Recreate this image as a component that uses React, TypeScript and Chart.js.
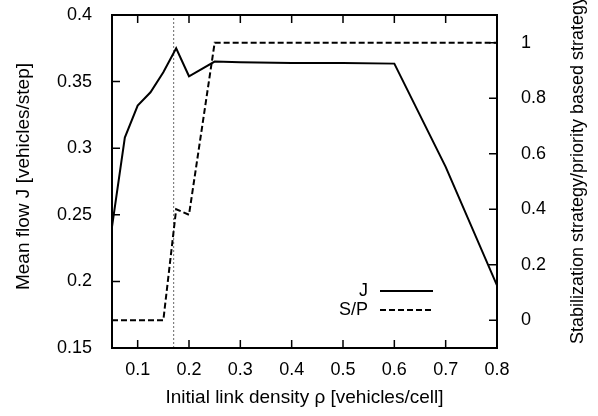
import React, { useEffect, useRef } from "react";
import { Chart, registerables } from "chart.js";

Chart.register(...registerables);

// Initial link density (x) and the two measured series
const density = [0.05, 0.075, 0.1, 0.125, 0.15, 0.175, 0.2, 0.25, 0.3, 0.4, 0.5, 0.6, 0.7, 0.8];
const meanFlow = [0.241, 0.308, 0.332, 0.342, 0.357, 0.375, 0.354, 0.365, 0.3645, 0.364, 0.364, 0.3635, 0.286, 0.197];
const strategyShare = [0, 0, 0, 0, 0, 0.4, 0.38, 1, 1, 1, 1, 1, 1, 1];

// Vertical reference line
const markerDensity = 0.17;

// Axis ranges and ticks
const xRange = [0.05, 0.8];
const flowRange = [0.15, 0.4];
const strategyRange = [-0.1, 1.1];
const xTicks = [0.1, 0.2, 0.3, 0.4, 0.5, 0.6, 0.7, 0.8];
const flowTicks = [0.15, 0.2, 0.25, 0.3, 0.35, 0.4];
const strategyTicks = [0, 0.2, 0.4, 0.6, 0.8, 1];

const FONT = '"Liberation Sans", Arial, Helvetica, sans-serif';
const TICK_FONT_SIZE = 18;
const TITLE_FONT_SIZE = 19;
const RIGHT_TITLE_FONT_SIZE = 18;
const TICK_LEN = 8;
const SP_DASH = [6, 3];

const framePlugin = {
  id: "frame",
  afterDatasetsDraw(chart: any) {
    const { ctx, chartArea: a, scales } = chart;
    ctx.save();
    ctx.strokeStyle = "#000";

    // inward tick marks, x ticks mirrored on top
    ctx.lineWidth = 1.5;
    ctx.beginPath();
    for (const v of xTicks) {
      const px = scales.x.getPixelForValue(v);
      ctx.moveTo(px, a.bottom);
      ctx.lineTo(px, a.bottom - TICK_LEN);
      ctx.moveTo(px, a.top);
      ctx.lineTo(px, a.top + TICK_LEN);
    }
    for (const v of flowTicks) {
      const py = scales.y.getPixelForValue(v);
      ctx.moveTo(a.left, py);
      ctx.lineTo(a.left + TICK_LEN, py);
    }
    for (const v of strategyTicks) {
      const py = scales.y1.getPixelForValue(v);
      ctx.moveTo(a.right, py);
      ctx.lineTo(a.right - TICK_LEN, py);
    }
    ctx.stroke();

    // plot border
    ctx.lineWidth = 2;
    ctx.strokeRect(a.left, a.top, a.right - a.left, a.bottom - a.top);

    // key, bottom right inside the plot
    ctx.font = `${TICK_FONT_SIZE}px ${FONT}`;
    ctx.fillStyle = "#000";
    ctx.textAlign = "right";
    ctx.textBaseline = "middle";
    const keys = [chart.data.datasets[0], chart.data.datasets[1]];
    keys.forEach((ds: any, i: number) => {
      const y = 291 + i * 19;
      ctx.fillText(ds.label, 368, y);
      ctx.lineWidth = 2;
      ctx.setLineDash(ds.borderDash || []);
      ctx.beginPath();
      ctx.moveTo(380, y);
      ctx.lineTo(433, y);
      ctx.stroke();
      ctx.setLineDash([]);
    });

    // axis titles
    ctx.font = `${TITLE_FONT_SIZE}px ${FONT}`;
    ctx.textAlign = "center";
    ctx.textBaseline = "alphabetic";
    ctx.fillText("Initial link density ρ [vehicles/cell]", (a.left + a.right) / 2, 403);

    ctx.textBaseline = "middle";
    ctx.save();
    ctx.translate(24, 176.5);
    ctx.rotate(-Math.PI / 2);
    ctx.fillText("Mean flow J [vehicles/step]", 0, 0);
    ctx.restore();

    ctx.font = `${RIGHT_TITLE_FONT_SIZE}px ${FONT}`;
    ctx.save();
    ctx.translate(578, 170);
    ctx.rotate(-Math.PI / 2);
    ctx.fillText("Stabilization strategy/priority based strategy", 0, 0);
    ctx.restore();

    ctx.restore();
  },
};

const tickFont = { family: FONT, size: TICK_FONT_SIZE };
const fmt = (v: number | string) => String(v);

export default function App() {
  const canvasRef = useRef<HTMLCanvasElement | null>(null);

  useEffect(() => {
    if (!canvasRef.current) return;
    const chart = new Chart(canvasRef.current, {
      type: "line",
      data: {
        datasets: [
          {
            label: "J",
            data: density.map((x, i) => ({ x, y: meanFlow[i] })),
            yAxisID: "y",
            borderColor: "#000",
            borderWidth: 2,
            pointRadius: 0,
            tension: 0,
            fill: false,
          },
          {
            label: "S/P",
            data: density.map((x, i) => ({ x, y: strategyShare[i] })),
            yAxisID: "y1",
            borderColor: "#000",
            borderWidth: 2,
            borderDash: SP_DASH,
            pointRadius: 0,
            tension: 0,
            fill: false,
          },
          {
            label: "marker",
            data: [
              { x: markerDensity, y: flowRange[0] },
              { x: markerDensity, y: flowRange[1] },
            ],
            yAxisID: "y",
            borderColor: "#808080",
            borderWidth: 1.2,
            borderDash: [2, 2],
            pointRadius: 0,
            fill: false,
          },
        ],
      },
      options: {
        responsive: false,
        animation: false,
        layout: { padding: { top: 15, left: 0, right: 0, bottom: 0 } },
        plugins: {
          legend: { display: false },
          tooltip: { enabled: false },
        },
        scales: {
          x: {
            type: "linear",
            min: xRange[0],
            max: xRange[1],
            afterBuildTicks: (s: any) => {
              s.ticks = xTicks.map((value) => ({ value }));
            },
            afterFit: (s: any) => {
              s.height = 68;
              s.paddingLeft = 0;
              s.paddingRight = 0;
            },
            ticks: {
              callback: fmt,
              font: tickFont,
              color: "#000",
              padding: 3,
              maxRotation: 0,
              autoSkip: false,
            },
            grid: { display: false },
            border: { display: false },
          },
          y: {
            type: "linear",
            position: "left",
            min: flowRange[0],
            max: flowRange[1],
            afterBuildTicks: (s: any) => {
              s.ticks = flowTicks.map((value) => ({ value }));
            },
            afterFit: (s: any) => {
              s.width = 112;
              s.paddingTop = 0;
              s.paddingBottom = 0;
            },
            ticks: {
              callback: fmt,
              font: tickFont,
              color: "#000",
              padding: 12,
              autoSkip: false,
            },
            grid: { display: false },
            border: { display: false },
          },
          y1: {
            type: "linear",
            position: "right",
            min: strategyRange[0],
            max: strategyRange[1],
            afterBuildTicks: (s: any) => {
              s.ticks = strategyTicks.map((value) => ({ value }));
            },
            afterFit: (s: any) => {
              s.width = 101;
              s.paddingTop = 0;
              s.paddingBottom = 0;
            },
            ticks: {
              callback: fmt,
              font: tickFont,
              color: "#000",
              padding: 16,
              autoSkip: false,
            },
            grid: { display: false },
            border: { display: false },
          },
        },
      },
      plugins: [framePlugin],
    } as any);
    return () => chart.destroy();
  }, []);

  return (
    <div style={{ position: "absolute", left: 0, top: 0, width: 598, height: 416, background: "#fff" }}>
      <canvas ref={canvasRef} width={598} height={416} style={{ width: 598, height: 416 }} />
    </div>
  );
}
